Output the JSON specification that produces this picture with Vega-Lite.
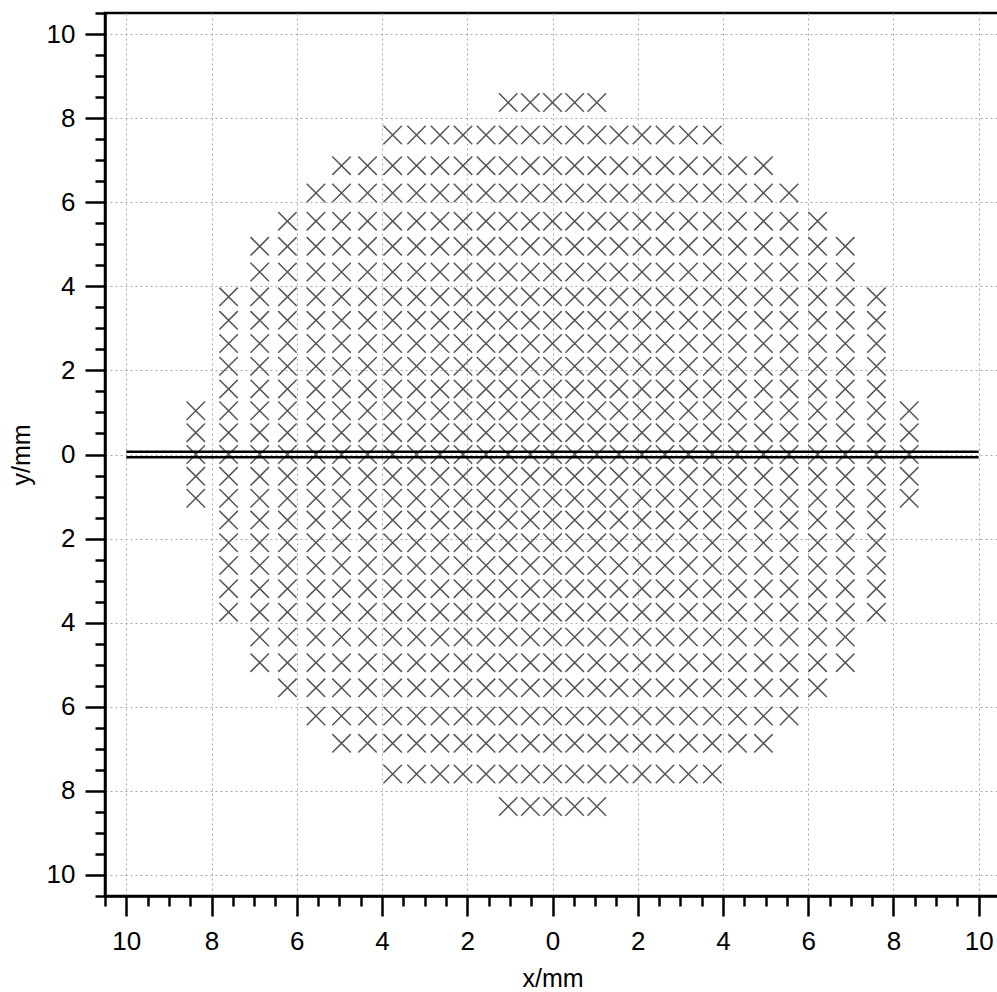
{
"$schema": "https://vega.github.io/schema/vega-lite/v6.json",
"autosize": "none",
"width": 895,
"height": 883,
"padding": {"left": 105, "top": 13, "right": 0, "bottom": 96},
"background": "white",
"config": {
  "view": {"stroke": "black", "strokeWidth": 2.5},
  "font": "Liberation Sans",
  "axis": {"domainColor": "black", "domainWidth": 2.5, "tickColor": "black", "tickWidth": 2.5, "labelFont": "Liberation Sans", "labelFontSize": 26, "labelColor": "black", "titleFont": "Liberation Sans", "titleFontSize": 25, "titleFontWeight": "normal", "titleColor": "black", "gridColor": "#a8a8a8", "gridDash": [2, 3], "gridWidth": 1, "labelOverlap": false, "labelFlush": false, "labelBound": false, "tickCount": 100}
},
"data": {"values": [
{"x":-1.04,"y":8.37},{"x":-0.52,"y":8.37},{"x":0,"y":8.37},{"x":0.52,"y":8.37},{"x":1.04,"y":8.37},
{"x":-3.75,"y":7.6},{"x":-3.19,"y":7.6},{"x":-2.64,"y":7.6},{"x":-2.1,"y":7.6},{"x":-1.56,"y":7.6},{"x":-1.04,"y":7.6},{"x":-0.52,"y":7.6},{"x":0,"y":7.6},{"x":0.52,"y":7.6},{"x":1.04,"y":7.6},{"x":1.56,"y":7.6},{"x":2.1,"y":7.6},{"x":2.64,"y":7.6},{"x":3.19,"y":7.6},{"x":3.75,"y":7.6},
{"x":-4.95,"y":6.87},{"x":-4.34,"y":6.87},{"x":-3.75,"y":6.87},{"x":-3.19,"y":6.87},{"x":-2.64,"y":6.87},{"x":-2.1,"y":6.87},{"x":-1.56,"y":6.87},{"x":-1.04,"y":6.87},{"x":-0.52,"y":6.87},{"x":0,"y":6.87},{"x":0.52,"y":6.87},{"x":1.04,"y":6.87},{"x":1.56,"y":6.87},{"x":2.1,"y":6.87},{"x":2.64,"y":6.87},{"x":3.19,"y":6.87},{"x":3.75,"y":6.87},{"x":4.34,"y":6.87},{"x":4.95,"y":6.87},
{"x":-5.55,"y":6.22},{"x":-4.95,"y":6.22},{"x":-4.34,"y":6.22},{"x":-3.75,"y":6.22},{"x":-3.19,"y":6.22},{"x":-2.64,"y":6.22},{"x":-2.1,"y":6.22},{"x":-1.56,"y":6.22},{"x":-1.04,"y":6.22},{"x":-0.52,"y":6.22},{"x":0,"y":6.22},{"x":0.52,"y":6.22},{"x":1.04,"y":6.22},{"x":1.56,"y":6.22},{"x":2.1,"y":6.22},{"x":2.64,"y":6.22},{"x":3.19,"y":6.22},{"x":3.75,"y":6.22},{"x":4.34,"y":6.22},{"x":4.95,"y":6.22},{"x":5.55,"y":6.22},
{"x":-6.22,"y":5.55},{"x":-5.55,"y":5.55},{"x":-4.95,"y":5.55},{"x":-4.34,"y":5.55},{"x":-3.75,"y":5.55},{"x":-3.19,"y":5.55},{"x":-2.64,"y":5.55},{"x":-2.1,"y":5.55},{"x":-1.56,"y":5.55},{"x":-1.04,"y":5.55},{"x":-0.52,"y":5.55},{"x":0,"y":5.55},{"x":0.52,"y":5.55},{"x":1.04,"y":5.55},{"x":1.56,"y":5.55},{"x":2.1,"y":5.55},{"x":2.64,"y":5.55},{"x":3.19,"y":5.55},{"x":3.75,"y":5.55},{"x":4.34,"y":5.55},{"x":4.95,"y":5.55},{"x":5.55,"y":5.55},{"x":6.22,"y":5.55},
{"x":-6.87,"y":4.95},{"x":-6.22,"y":4.95},{"x":-5.55,"y":4.95},{"x":-4.95,"y":4.95},{"x":-4.34,"y":4.95},{"x":-3.75,"y":4.95},{"x":-3.19,"y":4.95},{"x":-2.64,"y":4.95},{"x":-2.1,"y":4.95},{"x":-1.56,"y":4.95},{"x":-1.04,"y":4.95},{"x":-0.52,"y":4.95},{"x":0,"y":4.95},{"x":0.52,"y":4.95},{"x":1.04,"y":4.95},{"x":1.56,"y":4.95},{"x":2.1,"y":4.95},{"x":2.64,"y":4.95},{"x":3.19,"y":4.95},{"x":3.75,"y":4.95},{"x":4.34,"y":4.95},{"x":4.95,"y":4.95},{"x":5.55,"y":4.95},{"x":6.22,"y":4.95},{"x":6.87,"y":4.95},
{"x":-6.87,"y":4.34},{"x":-6.22,"y":4.34},{"x":-5.55,"y":4.34},{"x":-4.95,"y":4.34},{"x":-4.34,"y":4.34},{"x":-3.75,"y":4.34},{"x":-3.19,"y":4.34},{"x":-2.64,"y":4.34},{"x":-2.1,"y":4.34},{"x":-1.56,"y":4.34},{"x":-1.04,"y":4.34},{"x":-0.52,"y":4.34},{"x":0,"y":4.34},{"x":0.52,"y":4.34},{"x":1.04,"y":4.34},{"x":1.56,"y":4.34},{"x":2.1,"y":4.34},{"x":2.64,"y":4.34},{"x":3.19,"y":4.34},{"x":3.75,"y":4.34},{"x":4.34,"y":4.34},{"x":4.95,"y":4.34},{"x":5.55,"y":4.34},{"x":6.22,"y":4.34},{"x":6.87,"y":4.34},
{"x":-7.6,"y":3.75},{"x":-6.87,"y":3.75},{"x":-6.22,"y":3.75},{"x":-5.55,"y":3.75},{"x":-4.95,"y":3.75},{"x":-4.34,"y":3.75},{"x":-3.75,"y":3.75},{"x":-3.19,"y":3.75},{"x":-2.64,"y":3.75},{"x":-2.1,"y":3.75},{"x":-1.56,"y":3.75},{"x":-1.04,"y":3.75},{"x":-0.52,"y":3.75},{"x":0,"y":3.75},{"x":0.52,"y":3.75},{"x":1.04,"y":3.75},{"x":1.56,"y":3.75},{"x":2.1,"y":3.75},{"x":2.64,"y":3.75},{"x":3.19,"y":3.75},{"x":3.75,"y":3.75},{"x":4.34,"y":3.75},{"x":4.95,"y":3.75},{"x":5.55,"y":3.75},{"x":6.22,"y":3.75},{"x":6.87,"y":3.75},{"x":7.6,"y":3.75},
{"x":-7.6,"y":3.19},{"x":-6.87,"y":3.19},{"x":-6.22,"y":3.19},{"x":-5.55,"y":3.19},{"x":-4.95,"y":3.19},{"x":-4.34,"y":3.19},{"x":-3.75,"y":3.19},{"x":-3.19,"y":3.19},{"x":-2.64,"y":3.19},{"x":-2.1,"y":3.19},{"x":-1.56,"y":3.19},{"x":-1.04,"y":3.19},{"x":-0.52,"y":3.19},{"x":0,"y":3.19},{"x":0.52,"y":3.19},{"x":1.04,"y":3.19},{"x":1.56,"y":3.19},{"x":2.1,"y":3.19},{"x":2.64,"y":3.19},{"x":3.19,"y":3.19},{"x":3.75,"y":3.19},{"x":4.34,"y":3.19},{"x":4.95,"y":3.19},{"x":5.55,"y":3.19},{"x":6.22,"y":3.19},{"x":6.87,"y":3.19},{"x":7.6,"y":3.19},
{"x":-7.6,"y":2.64},{"x":-6.87,"y":2.64},{"x":-6.22,"y":2.64},{"x":-5.55,"y":2.64},{"x":-4.95,"y":2.64},{"x":-4.34,"y":2.64},{"x":-3.75,"y":2.64},{"x":-3.19,"y":2.64},{"x":-2.64,"y":2.64},{"x":-2.1,"y":2.64},{"x":-1.56,"y":2.64},{"x":-1.04,"y":2.64},{"x":-0.52,"y":2.64},{"x":0,"y":2.64},{"x":0.52,"y":2.64},{"x":1.04,"y":2.64},{"x":1.56,"y":2.64},{"x":2.1,"y":2.64},{"x":2.64,"y":2.64},{"x":3.19,"y":2.64},{"x":3.75,"y":2.64},{"x":4.34,"y":2.64},{"x":4.95,"y":2.64},{"x":5.55,"y":2.64},{"x":6.22,"y":2.64},{"x":6.87,"y":2.64},{"x":7.6,"y":2.64},
{"x":-7.6,"y":2.1},{"x":-6.87,"y":2.1},{"x":-6.22,"y":2.1},{"x":-5.55,"y":2.1},{"x":-4.95,"y":2.1},{"x":-4.34,"y":2.1},{"x":-3.75,"y":2.1},{"x":-3.19,"y":2.1},{"x":-2.64,"y":2.1},{"x":-2.1,"y":2.1},{"x":-1.56,"y":2.1},{"x":-1.04,"y":2.1},{"x":-0.52,"y":2.1},{"x":0,"y":2.1},{"x":0.52,"y":2.1},{"x":1.04,"y":2.1},{"x":1.56,"y":2.1},{"x":2.1,"y":2.1},{"x":2.64,"y":2.1},{"x":3.19,"y":2.1},{"x":3.75,"y":2.1},{"x":4.34,"y":2.1},{"x":4.95,"y":2.1},{"x":5.55,"y":2.1},{"x":6.22,"y":2.1},{"x":6.87,"y":2.1},{"x":7.6,"y":2.1},
{"x":-7.6,"y":1.56},{"x":-6.87,"y":1.56},{"x":-6.22,"y":1.56},{"x":-5.55,"y":1.56},{"x":-4.95,"y":1.56},{"x":-4.34,"y":1.56},{"x":-3.75,"y":1.56},{"x":-3.19,"y":1.56},{"x":-2.64,"y":1.56},{"x":-2.1,"y":1.56},{"x":-1.56,"y":1.56},{"x":-1.04,"y":1.56},{"x":-0.52,"y":1.56},{"x":0,"y":1.56},{"x":0.52,"y":1.56},{"x":1.04,"y":1.56},{"x":1.56,"y":1.56},{"x":2.1,"y":1.56},{"x":2.64,"y":1.56},{"x":3.19,"y":1.56},{"x":3.75,"y":1.56},{"x":4.34,"y":1.56},{"x":4.95,"y":1.56},{"x":5.55,"y":1.56},{"x":6.22,"y":1.56},{"x":6.87,"y":1.56},{"x":7.6,"y":1.56},
{"x":-8.37,"y":1.04},{"x":-7.6,"y":1.04},{"x":-6.87,"y":1.04},{"x":-6.22,"y":1.04},{"x":-5.55,"y":1.04},{"x":-4.95,"y":1.04},{"x":-4.34,"y":1.04},{"x":-3.75,"y":1.04},{"x":-3.19,"y":1.04},{"x":-2.64,"y":1.04},{"x":-2.1,"y":1.04},{"x":-1.56,"y":1.04},{"x":-1.04,"y":1.04},{"x":-0.52,"y":1.04},{"x":0,"y":1.04},{"x":0.52,"y":1.04},{"x":1.04,"y":1.04},{"x":1.56,"y":1.04},{"x":2.1,"y":1.04},{"x":2.64,"y":1.04},{"x":3.19,"y":1.04},{"x":3.75,"y":1.04},{"x":4.34,"y":1.04},{"x":4.95,"y":1.04},{"x":5.55,"y":1.04},{"x":6.22,"y":1.04},{"x":6.87,"y":1.04},{"x":7.6,"y":1.04},{"x":8.37,"y":1.04},
{"x":-8.37,"y":0.52},{"x":-7.6,"y":0.52},{"x":-6.87,"y":0.52},{"x":-6.22,"y":0.52},{"x":-5.55,"y":0.52},{"x":-4.95,"y":0.52},{"x":-4.34,"y":0.52},{"x":-3.75,"y":0.52},{"x":-3.19,"y":0.52},{"x":-2.64,"y":0.52},{"x":-2.1,"y":0.52},{"x":-1.56,"y":0.52},{"x":-1.04,"y":0.52},{"x":-0.52,"y":0.52},{"x":0,"y":0.52},{"x":0.52,"y":0.52},{"x":1.04,"y":0.52},{"x":1.56,"y":0.52},{"x":2.1,"y":0.52},{"x":2.64,"y":0.52},{"x":3.19,"y":0.52},{"x":3.75,"y":0.52},{"x":4.34,"y":0.52},{"x":4.95,"y":0.52},{"x":5.55,"y":0.52},{"x":6.22,"y":0.52},{"x":6.87,"y":0.52},{"x":7.6,"y":0.52},{"x":8.37,"y":0.52},
{"x":-8.37,"y":0},{"x":-7.6,"y":0},{"x":-6.87,"y":0},{"x":-6.22,"y":0},{"x":-5.55,"y":0},{"x":-4.95,"y":0},{"x":-4.34,"y":0},{"x":-3.75,"y":0},{"x":-3.19,"y":0},{"x":-2.64,"y":0},{"x":-2.1,"y":0},{"x":-1.56,"y":0},{"x":-1.04,"y":0},{"x":-0.52,"y":0},{"x":0,"y":0},{"x":0.52,"y":0},{"x":1.04,"y":0},{"x":1.56,"y":0},{"x":2.1,"y":0},{"x":2.64,"y":0},{"x":3.19,"y":0},{"x":3.75,"y":0},{"x":4.34,"y":0},{"x":4.95,"y":0},{"x":5.55,"y":0},{"x":6.22,"y":0},{"x":6.87,"y":0},{"x":7.6,"y":0},{"x":8.37,"y":0},
{"x":-8.37,"y":-0.52},{"x":-7.6,"y":-0.52},{"x":-6.87,"y":-0.52},{"x":-6.22,"y":-0.52},{"x":-5.55,"y":-0.52},{"x":-4.95,"y":-0.52},{"x":-4.34,"y":-0.52},{"x":-3.75,"y":-0.52},{"x":-3.19,"y":-0.52},{"x":-2.64,"y":-0.52},{"x":-2.1,"y":-0.52},{"x":-1.56,"y":-0.52},{"x":-1.04,"y":-0.52},{"x":-0.52,"y":-0.52},{"x":0,"y":-0.52},{"x":0.52,"y":-0.52},{"x":1.04,"y":-0.52},{"x":1.56,"y":-0.52},{"x":2.1,"y":-0.52},{"x":2.64,"y":-0.52},{"x":3.19,"y":-0.52},{"x":3.75,"y":-0.52},{"x":4.34,"y":-0.52},{"x":4.95,"y":-0.52},{"x":5.55,"y":-0.52},{"x":6.22,"y":-0.52},{"x":6.87,"y":-0.52},{"x":7.6,"y":-0.52},{"x":8.37,"y":-0.52},
{"x":-8.37,"y":-1.04},{"x":-7.6,"y":-1.04},{"x":-6.87,"y":-1.04},{"x":-6.22,"y":-1.04},{"x":-5.55,"y":-1.04},{"x":-4.95,"y":-1.04},{"x":-4.34,"y":-1.04},{"x":-3.75,"y":-1.04},{"x":-3.19,"y":-1.04},{"x":-2.64,"y":-1.04},{"x":-2.1,"y":-1.04},{"x":-1.56,"y":-1.04},{"x":-1.04,"y":-1.04},{"x":-0.52,"y":-1.04},{"x":0,"y":-1.04},{"x":0.52,"y":-1.04},{"x":1.04,"y":-1.04},{"x":1.56,"y":-1.04},{"x":2.1,"y":-1.04},{"x":2.64,"y":-1.04},{"x":3.19,"y":-1.04},{"x":3.75,"y":-1.04},{"x":4.34,"y":-1.04},{"x":4.95,"y":-1.04},{"x":5.55,"y":-1.04},{"x":6.22,"y":-1.04},{"x":6.87,"y":-1.04},{"x":7.6,"y":-1.04},{"x":8.37,"y":-1.04},
{"x":-7.6,"y":-1.56},{"x":-6.87,"y":-1.56},{"x":-6.22,"y":-1.56},{"x":-5.55,"y":-1.56},{"x":-4.95,"y":-1.56},{"x":-4.34,"y":-1.56},{"x":-3.75,"y":-1.56},{"x":-3.19,"y":-1.56},{"x":-2.64,"y":-1.56},{"x":-2.1,"y":-1.56},{"x":-1.56,"y":-1.56},{"x":-1.04,"y":-1.56},{"x":-0.52,"y":-1.56},{"x":0,"y":-1.56},{"x":0.52,"y":-1.56},{"x":1.04,"y":-1.56},{"x":1.56,"y":-1.56},{"x":2.1,"y":-1.56},{"x":2.64,"y":-1.56},{"x":3.19,"y":-1.56},{"x":3.75,"y":-1.56},{"x":4.34,"y":-1.56},{"x":4.95,"y":-1.56},{"x":5.55,"y":-1.56},{"x":6.22,"y":-1.56},{"x":6.87,"y":-1.56},{"x":7.6,"y":-1.56},
{"x":-7.6,"y":-2.1},{"x":-6.87,"y":-2.1},{"x":-6.22,"y":-2.1},{"x":-5.55,"y":-2.1},{"x":-4.95,"y":-2.1},{"x":-4.34,"y":-2.1},{"x":-3.75,"y":-2.1},{"x":-3.19,"y":-2.1},{"x":-2.64,"y":-2.1},{"x":-2.1,"y":-2.1},{"x":-1.56,"y":-2.1},{"x":-1.04,"y":-2.1},{"x":-0.52,"y":-2.1},{"x":0,"y":-2.1},{"x":0.52,"y":-2.1},{"x":1.04,"y":-2.1},{"x":1.56,"y":-2.1},{"x":2.1,"y":-2.1},{"x":2.64,"y":-2.1},{"x":3.19,"y":-2.1},{"x":3.75,"y":-2.1},{"x":4.34,"y":-2.1},{"x":4.95,"y":-2.1},{"x":5.55,"y":-2.1},{"x":6.22,"y":-2.1},{"x":6.87,"y":-2.1},{"x":7.6,"y":-2.1},
{"x":-7.6,"y":-2.64},{"x":-6.87,"y":-2.64},{"x":-6.22,"y":-2.64},{"x":-5.55,"y":-2.64},{"x":-4.95,"y":-2.64},{"x":-4.34,"y":-2.64},{"x":-3.75,"y":-2.64},{"x":-3.19,"y":-2.64},{"x":-2.64,"y":-2.64},{"x":-2.1,"y":-2.64},{"x":-1.56,"y":-2.64},{"x":-1.04,"y":-2.64},{"x":-0.52,"y":-2.64},{"x":0,"y":-2.64},{"x":0.52,"y":-2.64},{"x":1.04,"y":-2.64},{"x":1.56,"y":-2.64},{"x":2.1,"y":-2.64},{"x":2.64,"y":-2.64},{"x":3.19,"y":-2.64},{"x":3.75,"y":-2.64},{"x":4.34,"y":-2.64},{"x":4.95,"y":-2.64},{"x":5.55,"y":-2.64},{"x":6.22,"y":-2.64},{"x":6.87,"y":-2.64},{"x":7.6,"y":-2.64},
{"x":-7.6,"y":-3.19},{"x":-6.87,"y":-3.19},{"x":-6.22,"y":-3.19},{"x":-5.55,"y":-3.19},{"x":-4.95,"y":-3.19},{"x":-4.34,"y":-3.19},{"x":-3.75,"y":-3.19},{"x":-3.19,"y":-3.19},{"x":-2.64,"y":-3.19},{"x":-2.1,"y":-3.19},{"x":-1.56,"y":-3.19},{"x":-1.04,"y":-3.19},{"x":-0.52,"y":-3.19},{"x":0,"y":-3.19},{"x":0.52,"y":-3.19},{"x":1.04,"y":-3.19},{"x":1.56,"y":-3.19},{"x":2.1,"y":-3.19},{"x":2.64,"y":-3.19},{"x":3.19,"y":-3.19},{"x":3.75,"y":-3.19},{"x":4.34,"y":-3.19},{"x":4.95,"y":-3.19},{"x":5.55,"y":-3.19},{"x":6.22,"y":-3.19},{"x":6.87,"y":-3.19},{"x":7.6,"y":-3.19},
{"x":-7.6,"y":-3.75},{"x":-6.87,"y":-3.75},{"x":-6.22,"y":-3.75},{"x":-5.55,"y":-3.75},{"x":-4.95,"y":-3.75},{"x":-4.34,"y":-3.75},{"x":-3.75,"y":-3.75},{"x":-3.19,"y":-3.75},{"x":-2.64,"y":-3.75},{"x":-2.1,"y":-3.75},{"x":-1.56,"y":-3.75},{"x":-1.04,"y":-3.75},{"x":-0.52,"y":-3.75},{"x":0,"y":-3.75},{"x":0.52,"y":-3.75},{"x":1.04,"y":-3.75},{"x":1.56,"y":-3.75},{"x":2.1,"y":-3.75},{"x":2.64,"y":-3.75},{"x":3.19,"y":-3.75},{"x":3.75,"y":-3.75},{"x":4.34,"y":-3.75},{"x":4.95,"y":-3.75},{"x":5.55,"y":-3.75},{"x":6.22,"y":-3.75},{"x":6.87,"y":-3.75},{"x":7.6,"y":-3.75},
{"x":-6.87,"y":-4.34},{"x":-6.22,"y":-4.34},{"x":-5.55,"y":-4.34},{"x":-4.95,"y":-4.34},{"x":-4.34,"y":-4.34},{"x":-3.75,"y":-4.34},{"x":-3.19,"y":-4.34},{"x":-2.64,"y":-4.34},{"x":-2.1,"y":-4.34},{"x":-1.56,"y":-4.34},{"x":-1.04,"y":-4.34},{"x":-0.52,"y":-4.34},{"x":0,"y":-4.34},{"x":0.52,"y":-4.34},{"x":1.04,"y":-4.34},{"x":1.56,"y":-4.34},{"x":2.1,"y":-4.34},{"x":2.64,"y":-4.34},{"x":3.19,"y":-4.34},{"x":3.75,"y":-4.34},{"x":4.34,"y":-4.34},{"x":4.95,"y":-4.34},{"x":5.55,"y":-4.34},{"x":6.22,"y":-4.34},{"x":6.87,"y":-4.34},
{"x":-6.87,"y":-4.95},{"x":-6.22,"y":-4.95},{"x":-5.55,"y":-4.95},{"x":-4.95,"y":-4.95},{"x":-4.34,"y":-4.95},{"x":-3.75,"y":-4.95},{"x":-3.19,"y":-4.95},{"x":-2.64,"y":-4.95},{"x":-2.1,"y":-4.95},{"x":-1.56,"y":-4.95},{"x":-1.04,"y":-4.95},{"x":-0.52,"y":-4.95},{"x":0,"y":-4.95},{"x":0.52,"y":-4.95},{"x":1.04,"y":-4.95},{"x":1.56,"y":-4.95},{"x":2.1,"y":-4.95},{"x":2.64,"y":-4.95},{"x":3.19,"y":-4.95},{"x":3.75,"y":-4.95},{"x":4.34,"y":-4.95},{"x":4.95,"y":-4.95},{"x":5.55,"y":-4.95},{"x":6.22,"y":-4.95},{"x":6.87,"y":-4.95},
{"x":-6.22,"y":-5.55},{"x":-5.55,"y":-5.55},{"x":-4.95,"y":-5.55},{"x":-4.34,"y":-5.55},{"x":-3.75,"y":-5.55},{"x":-3.19,"y":-5.55},{"x":-2.64,"y":-5.55},{"x":-2.1,"y":-5.55},{"x":-1.56,"y":-5.55},{"x":-1.04,"y":-5.55},{"x":-0.52,"y":-5.55},{"x":0,"y":-5.55},{"x":0.52,"y":-5.55},{"x":1.04,"y":-5.55},{"x":1.56,"y":-5.55},{"x":2.1,"y":-5.55},{"x":2.64,"y":-5.55},{"x":3.19,"y":-5.55},{"x":3.75,"y":-5.55},{"x":4.34,"y":-5.55},{"x":4.95,"y":-5.55},{"x":5.55,"y":-5.55},{"x":6.22,"y":-5.55},
{"x":-5.55,"y":-6.22},{"x":-4.95,"y":-6.22},{"x":-4.34,"y":-6.22},{"x":-3.75,"y":-6.22},{"x":-3.19,"y":-6.22},{"x":-2.64,"y":-6.22},{"x":-2.1,"y":-6.22},{"x":-1.56,"y":-6.22},{"x":-1.04,"y":-6.22},{"x":-0.52,"y":-6.22},{"x":0,"y":-6.22},{"x":0.52,"y":-6.22},{"x":1.04,"y":-6.22},{"x":1.56,"y":-6.22},{"x":2.1,"y":-6.22},{"x":2.64,"y":-6.22},{"x":3.19,"y":-6.22},{"x":3.75,"y":-6.22},{"x":4.34,"y":-6.22},{"x":4.95,"y":-6.22},{"x":5.55,"y":-6.22},
{"x":-4.95,"y":-6.87},{"x":-4.34,"y":-6.87},{"x":-3.75,"y":-6.87},{"x":-3.19,"y":-6.87},{"x":-2.64,"y":-6.87},{"x":-2.1,"y":-6.87},{"x":-1.56,"y":-6.87},{"x":-1.04,"y":-6.87},{"x":-0.52,"y":-6.87},{"x":0,"y":-6.87},{"x":0.52,"y":-6.87},{"x":1.04,"y":-6.87},{"x":1.56,"y":-6.87},{"x":2.1,"y":-6.87},{"x":2.64,"y":-6.87},{"x":3.19,"y":-6.87},{"x":3.75,"y":-6.87},{"x":4.34,"y":-6.87},{"x":4.95,"y":-6.87},
{"x":-3.75,"y":-7.6},{"x":-3.19,"y":-7.6},{"x":-2.64,"y":-7.6},{"x":-2.1,"y":-7.6},{"x":-1.56,"y":-7.6},{"x":-1.04,"y":-7.6},{"x":-0.52,"y":-7.6},{"x":0,"y":-7.6},{"x":0.52,"y":-7.6},{"x":1.04,"y":-7.6},{"x":1.56,"y":-7.6},{"x":2.1,"y":-7.6},{"x":2.64,"y":-7.6},{"x":3.19,"y":-7.6},{"x":3.75,"y":-7.6},
{"x":-1.04,"y":-8.37},{"x":-0.52,"y":-8.37},{"x":0,"y":-8.37},{"x":0.52,"y":-8.37},{"x":1.04,"y":-8.37}
]},
"layer": [
  {
    "mark": {"type": "point", "shape": "M-1,-1L1,1M-1,1L1,-1", "filled": false, "size": 340, "color": "#555555", "strokeWidth": 1.5, "opacity": 1},
    "encoding": {
      "x": {"field": "x", "type": "quantitative", "scale": {"domain": [-10.5, 10.5], "nice": false, "zero": false},
        "axis": {"title": "x/mm", "values": [-10.5,-10,-9.5,-9,-8.5,-8,-7.5,-7,-6.5,-6,-5.5,-5,-4.5,-4,-3.5,-3,-2.5,-2,-1.5,-1,-0.5,0,0.5,1,1.5,2,2.5,3,3.5,4,4.5,5,5.5,6,6.5,7,7.5,8,8.5,9,9.5,10,10.5],
          "tickCount": 100,
          "labelExpr": "abs(datum.value) % 2 < 0.01 ? '' + abs(datum.value) : ''",
          "grid": true,
          "gridOpacity": {"condition": {"test": "abs(datum.value) % 2 < 0.01", "value": 1}, "value": 0},
          "tickSize": {"condition": {"test": "abs(datum.value) % 2 < 0.01", "value": 20}, "value": 10},
          "labelPadding": 12, "titlePadding": 12}},
      "y": {"field": "y", "type": "quantitative", "scale": {"domain": [-10.5, 10.5], "nice": false, "zero": false},
        "axis": {"title": "y/mm", "values": [-10.5,-10,-9.5,-9,-8.5,-8,-7.5,-7,-6.5,-6,-5.5,-5,-4.5,-4,-3.5,-3,-2.5,-2,-1.5,-1,-0.5,0,0.5,1,1.5,2,2.5,3,3.5,4,4.5,5,5.5,6,6.5,7,7.5,8,8.5,9,9.5,10,10.5],
          "tickCount": 100,
          "labelExpr": "abs(datum.value) % 2 < 0.01 ? '' + abs(datum.value) : ''",
          "grid": true,
          "gridOpacity": {"condition": {"test": "abs(datum.value) % 2 < 0.01", "value": 1}, "value": 0},
          "tickSize": {"condition": {"test": "abs(datum.value) % 2 < 0.01", "value": 20}, "value": 10},
          "labelPadding": 10, "titlePadding": 12}}
    }
  },
  {
    "data": {"values": [{"x": -10, "x2": 10, "y": 0}]},
    "mark": {"type": "rule", "color": "black", "strokeWidth": 2.5, "yOffset": -2.8},
    "encoding": {"x": {"field": "x", "type": "quantitative"}, "x2": {"field": "x2"}, "y": {"field": "y", "type": "quantitative"}}
  },
  {
    "data": {"values": [{"x": -10, "x2": 10, "y": 0}]},
    "mark": {"type": "rule", "color": "black", "strokeWidth": 2.5, "yOffset": 2.8},
    "encoding": {"x": {"field": "x", "type": "quantitative"}, "x2": {"field": "x2"}, "y": {"field": "y", "type": "quantitative"}}
  }
]
}
